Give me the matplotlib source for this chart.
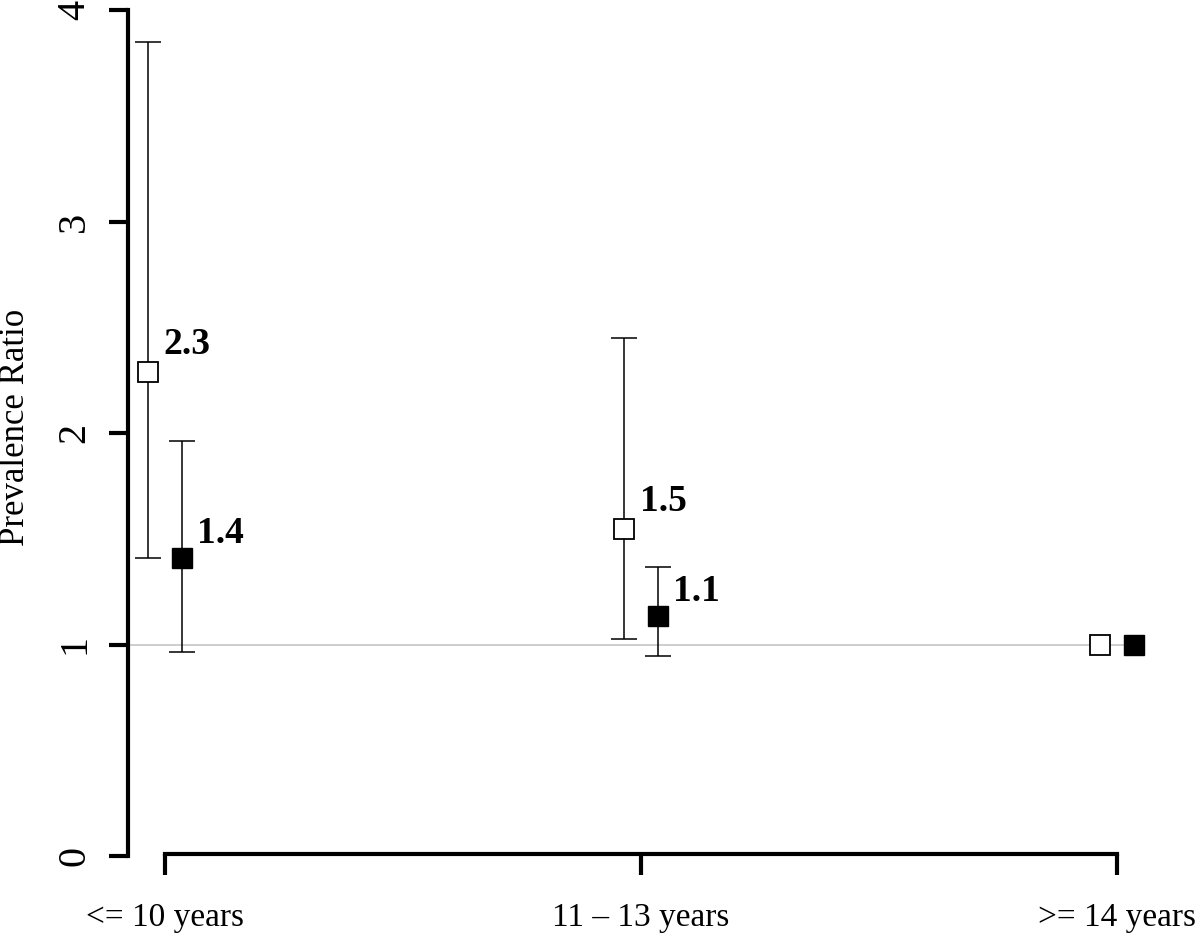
import matplotlib
matplotlib.use("Agg")
import matplotlib.pyplot as plt
import numpy as np

categories = ["<= 10 years", "11 \u2013 13 years", ">= 14 years"]
open_pr = [2.29, 1.545, 1.0]
open_lo = [1.41, 1.025, np.nan]
open_hi = [3.85, 2.45, np.nan]
filled_pr = [1.41, 1.135, 1.0]
filled_lo = [0.965, 0.945, np.nan]
filled_hi = [1.96, 1.365, np.nan]
open_labels = ["2.3", "1.5", None]
filled_labels = ["1.4", "1.1", None]
yticks = [0, 1, 2, 3, 4]

plt.rcParams['font.family'] = ['Liberation Serif', 'DejaVu Serif']

W, H = 1200, 935
fig = plt.figure(figsize=(W / 100, H / 100), dpi=100)
left_px, right_px, bottom_px, top_px = 128, 1190, 856, 10
ax = fig.add_axes([left_px / W, (H - bottom_px) / H,
                   (right_px - left_px) / W, (bottom_px - top_px) / H])
ax.patch.set_visible(False)

xc = np.arange(len(categories))
ppu = 476.0
ax.set_xlim((left_px - 165) / ppu, (right_px - 165) / ppu)
ax.set_ylim(0, 4)

off = 0.035
xo = xc - off
xf = xc + off

# reference line
ax.hlines(1.0, ax.get_xlim()[0], xf[-1] + 0.02, colors="#c0c0c0", lw=1.1, zorder=1, clip_on=False)

def err(lo, hi, pr):
    lo = np.array(lo, float); hi = np.array(hi, float); pr = np.array(pr, float)
    lower = np.where(np.isnan(lo), 0, pr - lo)
    upper = np.where(np.isnan(hi), 0, hi - pr)
    return np.vstack([lower, upper])

valid = ~np.isnan(np.array(open_lo, float))
ax.errorbar(xo[valid], np.array(open_pr)[valid], yerr=err(open_lo, open_hi, open_pr)[:, valid],
            fmt="none", ecolor="black", elinewidth=1.1, capsize=9.5, capthick=1.1, zorder=2, clip_on=False)
ax.errorbar(xf[valid], np.array(filled_pr)[valid], yerr=err(filled_lo, filled_hi, filled_pr)[:, valid],
            fmt="none", ecolor="black", elinewidth=1.1, capsize=9.5, capthick=1.1, zorder=2, clip_on=False)

ax.plot(xo, open_pr, ls="none", marker="s", ms=14.5, mfc="white", mec="black", mew=1.3, zorder=3, clip_on=False)
ax.plot(xf, filled_pr, ls="none", marker="s", ms=14, mfc="black", mec="black", mew=1.0, zorder=3, clip_on=False)

for x, y, t in zip(xo, open_pr, open_labels):
    if t:
        ax.annotate(t, (x, y), xytext=(11, 13), textcoords="offset points",
                    ha="left", va="baseline", fontsize=27, fontweight="bold")
for x, y, t in zip(xf, filled_pr, filled_labels):
    if t:
        ax.annotate(t, (x, y), xytext=(11, 11), textcoords="offset points",
                    ha="left", va="baseline", fontsize=27, fontweight="bold")

# axes styling (R-like)
for s in ["top", "right"]:
    ax.spines[s].set_visible(False)
ax.spines["left"].set_linewidth(3)
ax.spines["left"].set_bounds(0, 4)
ax.spines["bottom"].set_linewidth(3)
ax.spines["bottom"].set_bounds(0, 2)
ax.spines["bottom"].set_position(("data", 0.01))

ax.set_yticks(yticks)
ax.set_yticklabels([str(v) for v in yticks], rotation=90, va="center", fontsize=29)
ax.tick_params(axis="y", length=14, width=3, pad=11)
ax.set_xticks(xc)
ax.set_xticklabels(categories, fontsize=24)
ax.tick_params(axis="x", length=15, width=3, pad=20)

fig.text(16 / W, 1 - 427 / H, "Prevalence Ratio", rotation=90, ha="center", va="center", fontsize=25)

fig.savefig("out.png", dpi=100)
